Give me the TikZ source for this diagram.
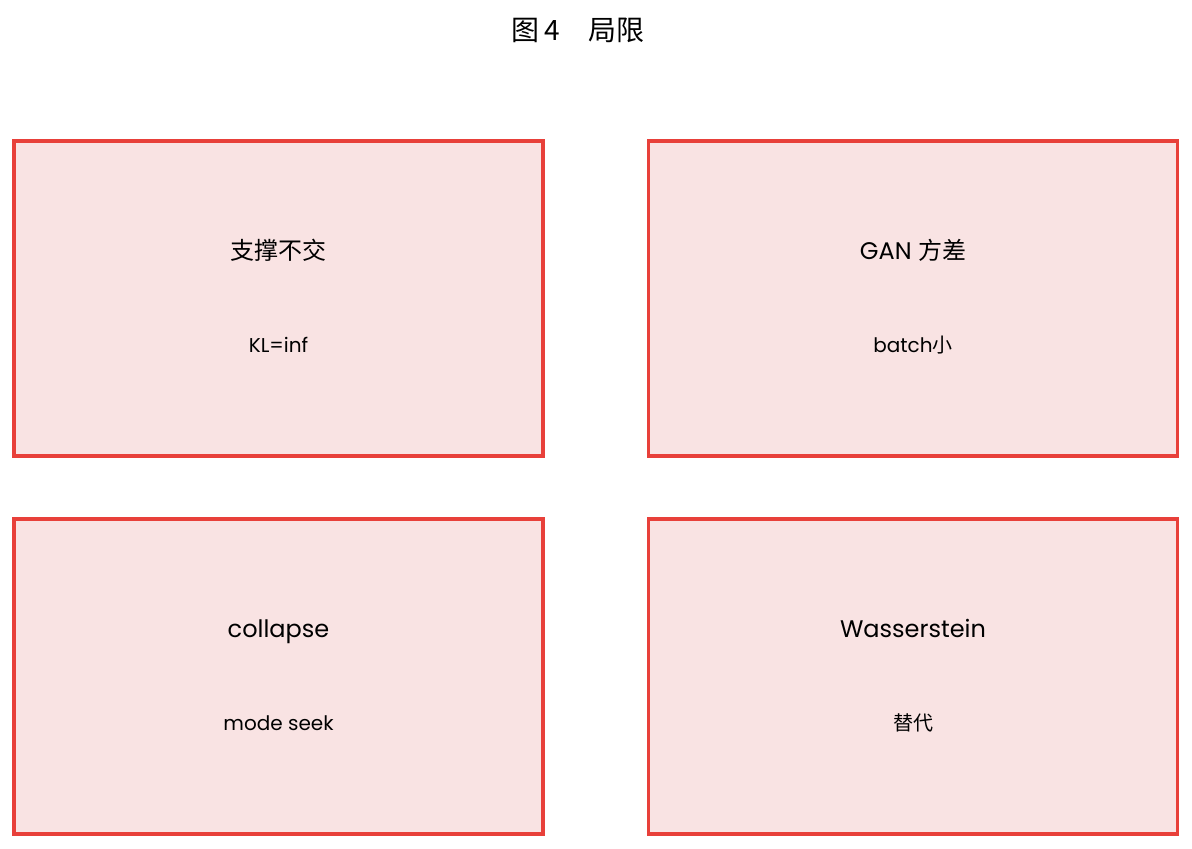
\documentclass[tikz,border=0pt]{standalone}
\usepackage{fontspec}
\setmainfont{Poppins}
\newfontfamily\cjk{Noto Sans CJK SC}
\usetikzlibrary{positioning}
\definecolor{boxred}{HTML}{E8403A}
\definecolor{boxpink}{HTML}{F9E3E3}

\begin{document}
\begin{tikzpicture}[x=0.5pt, y=-0.5pt,
    box/.style={draw=boxred, line width=1.6pt, fill=boxpink, minimum width=264.5pt, minimum height=157.5pt, inner sep=0pt},
    head/.style={font=\fontsize{12pt}{14pt}\selectfont, inner sep=0pt, text height=0.75em, text depth=0.2em},
    sub/.style={font=\fontsize{10pt}{12pt}\selectfont, inner sep=0pt, text height=0.75em, text depth=0.2em}]
  \useasboundingbox (0,0) rectangle (1192,849);
  \node[inner sep=0pt] (title) at (578,30) {\fontsize{14pt}{16pt}\selectfont\cjk 图\hspace{2.5pt}4\quad 局限};
  \foreach \n/\x/\y/\a/\b in {lt/278.5/298.5/{\cjk 支撑不交}/{KL=inf},
      rt/913/298.5/{GAN {\cjk 方差}}/{batch{\cjk 小}},
      lb/278.5/676.5/{collapse}/{mode seek},
      rb/913/676.5/{Wasserstein}/{\cjk 替代}}{
    \node[box] (box-\n) at (\x,\y) {};
    \node[head] (head-\n) at ([yshift=22.25pt]box-\n.center) {\a};
    \node[sub] (sub-\n) at ([yshift=-24.25pt]box-\n.center) {\b};
  }
\end{tikzpicture}
\end{document}
